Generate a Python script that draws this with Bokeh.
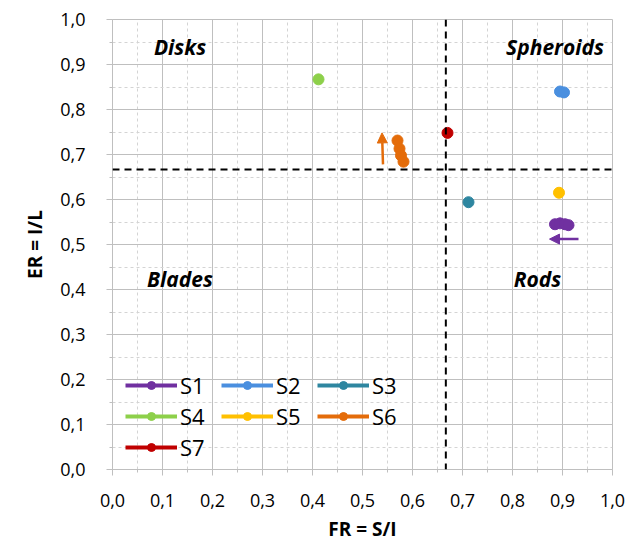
from bokeh.plotting import figure
from bokeh.models import (FixedTicker, Span, Legend, LegendItem, Arrow, NormalHead, Label)
from bokeh.embed import file_html
from bokeh.resources import INLINE

# ---- data ----
series_names = ["S1", "S2", "S3", "S4", "S5", "S6", "S7"]
S1_x = [0.885, 0.895, 0.905, 0.912]
S1_y = [0.545, 0.547, 0.545, 0.543]
S2_x = [0.895, 0.903]
S2_y = [0.840, 0.838]
S3_x = [0.712]
S3_y = [0.594]
S4_x = [0.412]
S4_y = [0.867]
S5_x = [0.893]
S5_y = [0.615]
S6_x = [0.570, 0.574, 0.577, 0.582]
S6_y = [0.731, 0.713, 0.698, 0.684]
S7_x = [0.670]
S7_y = [0.748]
series_colors = ["#7030A0", "#4A8FDF", "#2E86A0", "#8DD04A", "#FFC000", "#E46C0A", "#C00000"]

threshold = 2 / 3

ticks = [0.0, 0.1, 0.2, 0.3, 0.4, 0.5, 0.6, 0.7, 0.8, 0.9, 1.0]
tick_labels = ["0,0", "0,1", "0,2", "0,3", "0,4", "0,5", "0,6", "0,7", "0,8", "0,9", "1,0"]

region_names = ["Disks", "Spheroids", "Blades", "Rods"]
region_x = [0.135, 0.885, 0.135, 0.85]
region_y = [0.94, 0.94, 0.424, 0.424]

# arrows: (x_start, y_start, x_end, y_end)
arrow_S6 = [0.541, 0.678, 0.539, 0.748]
arrow_S1 = [0.932, 0.512, 0.874, 0.512]

xs = [S1_x, S2_x, S3_x, S4_x, S5_x, S6_x, S7_x]
ys = [S1_y, S2_y, S3_y, S4_y, S5_y, S6_y, S7_y]

FONT = "Open Sans"

p = figure(width=644, height=553, x_range=(0, 1), y_range=(0, 1),
           output_backend="svg", toolbar_location=None,
           min_border_left=112, min_border_right=32, min_border_top=19, min_border_bottom=84)
p.background_fill_color = "white"
p.border_fill_color = "white"
p.outline_line_color = "#bfbfbf"

minor = [round(t + 0.05, 2) for t in ticks[:-1]]
for ax in (p.xaxis[0], p.yaxis[0]):
    ax.ticker = FixedTicker(ticks=ticks, minor_ticks=minor)
    ax.major_label_overrides = {t: l for t, l in zip(ticks, tick_labels)}
    ax.axis_line_color = "#bfbfbf"
    ax.major_tick_line_color = "#bfbfbf"
    ax.minor_tick_line_color = "#bfbfbf"
    ax.major_tick_out = 6
    ax.major_tick_in = 0
    ax.minor_tick_out = 3
    ax.minor_tick_in = 0
    ax.major_label_text_font = FONT
    ax.major_label_text_font_size = "18px"
    ax.major_label_text_color = "#000000"
    ax.axis_label_text_font = FONT
    ax.axis_label_text_font_size = "19px"
    ax.axis_label_text_font_style = "bold"
    ax.axis_label_text_color = "#000000"

p.xaxis.axis_label = "FR = S/I"
p.yaxis.axis_label = "ER = I/L"
p.yaxis.major_label_standoff = 21
p.xaxis.major_label_standoff = 18
p.yaxis.axis_label_standoff = 9
p.xaxis.axis_label_standoff = 6

for g in (p.xgrid[0], p.ygrid[0]):
    g.ticker = FixedTicker(ticks=ticks, minor_ticks=minor)
    g.grid_line_color = "#bfbfbf"
    g.grid_line_width = 1
    g.minor_grid_line_color = "#d4d4d4"
    g.minor_grid_line_dash = "3 3"

# threshold dashed lines
p.add_layout(Span(location=threshold, dimension="width", line_color="black",
                  line_width=2, line_dash="7 5"))
p.add_layout(Span(location=threshold, dimension="height", line_color="black",
                  line_width=2, line_dash="7 5"))

items = []
for name, x, y, c in zip(series_names, xs, ys, series_colors):
    lr = p.line(x, y, line_color=c, line_width=4)
    sr = p.scatter(x, y, size=11, fill_color=c, line_color=c)
    items.append(LegendItem(label=name, renderers=[lr, sr]))

legend = Legend(items=items, orientation="horizontal", ncols=3, location=(7, 1),
                glyph_width=52, glyph_height=20, label_width=40, label_height=20,
                spacing=1, padding=6, label_standoff=3,
                label_text_font=FONT, label_text_font_size="22px",
                label_text_color="black",
                background_fill_alpha=0, border_line_alpha=0)
p.add_layout(legend, "center")

# arrows
for arr, c in ((arrow_S6, series_colors[5]), (arrow_S1, series_colors[0])):
    p.add_layout(Arrow(x_start=arr[0], y_start=arr[1], x_end=arr[2], y_end=arr[3],
                       line_color=c, line_width=2.5,
                       end=NormalHead(size=10, fill_color=c, line_color=c)))

for name, x, y in zip(region_names, region_x, region_y):
    p.add_layout(Label(x=x, y=y, text=name, text_font=FONT, text_font_size="21px",
                       text_font_style="bold italic", text_align="center",
                       text_baseline="middle", text_color="black"))

open("out.html", "w").write(file_html(p, INLINE))
